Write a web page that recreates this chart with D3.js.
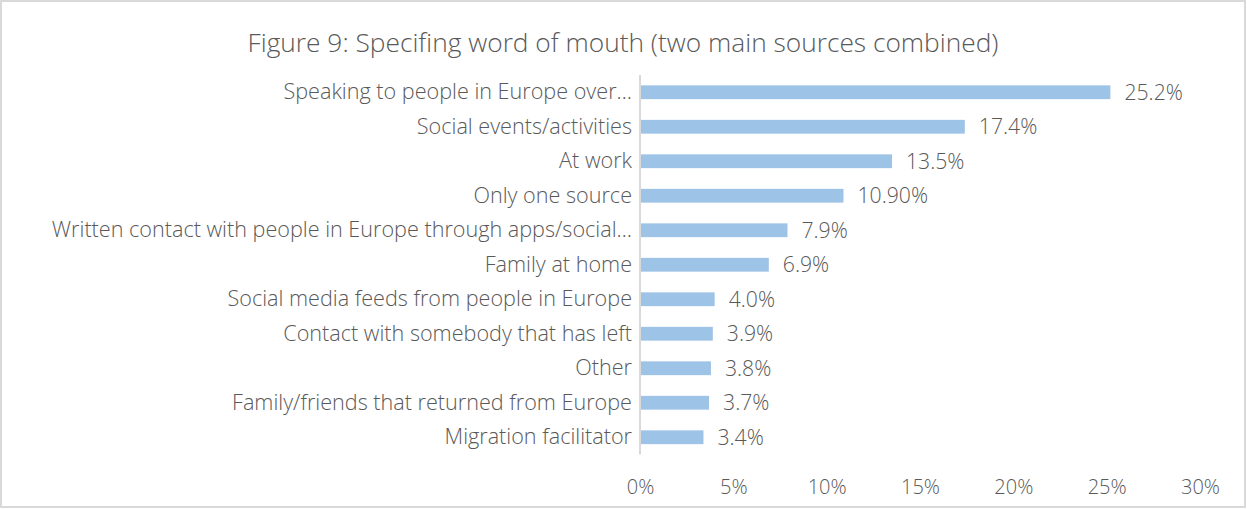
<!DOCTYPE html>
<html>
<head>
<meta charset="utf-8">
<script src="https://cdn.jsdelivr.net/npm/d3@7"></script>
<style>
  html, body { margin: 0; padding: 0; background: #fff; }
  svg text { font-family: "Open Sans", "Lato", sans-serif; font-weight: 300; fill: #595959; }
</style>
</head>
<body>
<svg id="chart" width="1247" height="510"></svg>
<script>
// Word-of-mouth sources, ordered as shown top to bottom
const categories = [
  "Speaking to people in Europe over…",
  "Social events/activities",
  "At work",
  "Only one source",
  "Written contact with people in Europe through apps/social…",
  "Family at home",
  "Social media feeds from people in Europe",
  "Contact with somebody that has left",
  "Other",
  "Family/friends that returned from Europe",
  "Migration facilitator"
];
const values = [25.2, 17.4, 13.5, 10.9, 7.9, 6.9, 4.0, 3.9, 3.8, 3.7, 3.4];
const valueLabels = ["25.2%", "17.4%", "13.5%", "10.90%", "7.9%", "6.9%", "4.0%", "3.9%", "3.8%", "3.7%", "3.4%"];
const tickValues = [0, 5, 10, 15, 20, 25, 30];
const titleText = "Figure 9: Specifing word of mouth (two main sources combined)";

const W = 1247, H = 510;
const svg = d3.select("#chart");

// outer frame
svg.append("rect")
  .attr("x", 1).attr("y", 1).attr("width", W - 3).attr("height", H - 4)
  .attr("fill", "#fff").attr("stroke", "#d9d9d9").attr("stroke-width", 2);

svg.append("text")
  .attr("x", 623).attr("y", 52)
  .attr("text-anchor", "middle")
  .style("font-size", "26.3px")
  .text(titleText);

const x = d3.scaleLinear().domain([0, 30]).range([640, 1200]);
const y = d3.scaleBand().domain(categories).range([75, 454.5]).paddingInner(0.6).paddingOuter(0.3);

// bars
svg.append("g").selectAll("rect")
  .data(values)
  .join("rect")
  .attr("x", x(0))
  .attr("y", (d, i) => y(categories[i]))
  .attr("width", d => x(d) - x(0))
  .attr("height", y.bandwidth())
  .attr("fill", "#9dc3e6");

// value labels
svg.append("g").selectAll("text")
  .data(values)
  .join("text")
  .attr("x", d => x(d) + 14)
  .attr("y", (d, i) => y(categories[i]) + y.bandwidth() / 2)
  .attr("dy", "0.35em")
  .style("font-size", "21.2px")
  .text((d, i) => valueLabels[i]);

// category axis
const yAxis = svg.append("g")
  .attr("transform", `translate(${x(0)},0)`)
  .call(d3.axisLeft(y).tickSize(0).tickPadding(8));
yAxis.select(".domain").attr("stroke", "#d9d9d9").attr("stroke-width", 2)
  .attr("d", `M0,75V454.5`);
yAxis.selectAll("text").style("font-size", "21.6px").attr("fill", "#595959");

// value axis
const xAxis = svg.append("g")
  .attr("transform", "translate(0,487)")
  .call(d3.axisBottom(x).tickValues(tickValues).tickFormat(d => d + "%").tickSize(0).tickPadding(0));
xAxis.select(".domain").remove();
xAxis.selectAll("text").style("font-size", "20px").attr("fill", "#595959").attr("dy", "0.35em");
</script>
</body>
</html>
